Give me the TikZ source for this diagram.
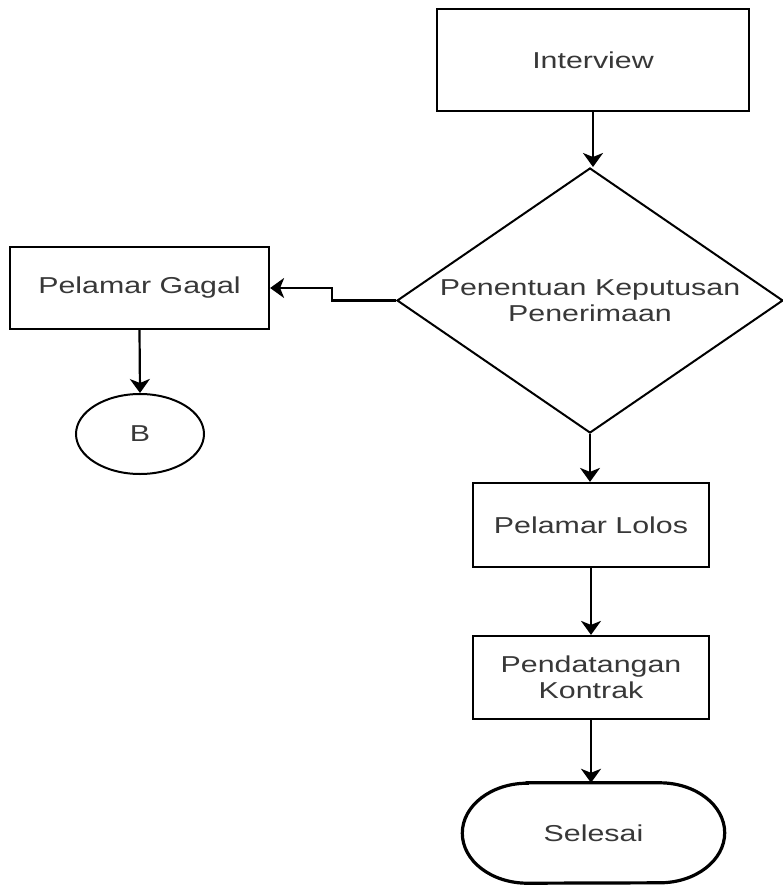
\documentclass[tikz,border=0pt]{standalone}
\usepackage{fontspec}
\setmainfont{Liberation Sans}[FakeStretch=1.32]
\usetikzlibrary{shapes.geometric,arrows.meta}
\begin{document}
\begin{tikzpicture}[x=1pt,y=-1pt,
  every node/.style={font=\fontsize{23}{26}\selectfont, text=black!78, align=center, inner sep=0pt},
  procbox/.style={draw=black, line width=2.2pt, rectangle},
  decision/.style={draw=black, line width=2pt, diamond, aspect=1.457, minimum width=386pt, minimum height=265pt},
  connector/.style={draw=black, line width=2pt, ellipse, minimum width=128pt, minimum height=80pt},
  flow/.style={line width=2.2pt, -{Stealth[length=14pt,width=20pt,inset=4pt]}},
  termline/.style={line width=3.2pt}
]
\useasboundingbox (0,0) rectangle (782,885);
\fill[white] (0,0) rectangle (782,885);

\node[procbox, minimum width=312pt, minimum height=102pt] (interview) at (593,60) {Interview};
\node[decision] (dec) at (590,300.5) {Penentuan Keputusan\\Penerimaan};
\node[procbox, minimum width=259pt, minimum height=82pt] (gagal) at (139.5,288) {Pelamar Gagal};
\node[connector] (b) at (140,434) {B};
\node[procbox, minimum width=236pt, minimum height=84pt] (lolos) at (591,525) {Pelamar Lolos};
\node[procbox, minimum width=236pt, minimum height=83pt] (kontrak) at (591,677.5) {Pendatangan\\Kontrak};
\node[minimum width=262pt, minimum height=100pt] (selesai) at (593.5,833) {Selesai};
\draw[termline] ([xshift=65pt]selesai.north west) -- ([xshift=-65pt]selesai.north east)
  arc[start angle=90, end angle=-90, x radius=65pt, y radius=50pt]
  -- ([xshift=65pt]selesai.south west)
  arc[start angle=270, end angle=90, x radius=65pt, y radius=50pt] -- cycle;

\draw[flow] (interview.south) -- (interview.south |- dec.north);
\draw[flow] (dec.west) -- ++(-64,0) |- (gagal.east);
\draw[flow] (gagal.south) -- (b.north);
\draw[flow] (dec.south) -- (dec.south |- lolos.north);
\draw[flow] (lolos.south) -- (kontrak.north);
\draw[flow] (kontrak.south) -- (kontrak.south |- selesai.north);
\end{tikzpicture}
\end{document}
